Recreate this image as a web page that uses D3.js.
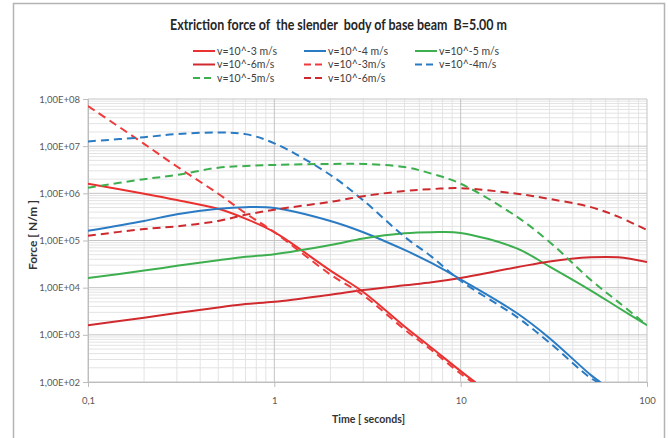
<!DOCTYPE html>
<html>
<head>
<meta charset="utf-8">
<script src="https://cdn.jsdelivr.net/npm/d3@7"></script>
<style>
  body { margin: 0; background: #fff; }
  text { font-family: Lato, "Open Sans", sans-serif; }
</style>
</head>
<body>
<div id="chart"></div>
<script>
// DATA
const timesFull = [0.1, 0.2, 0.3, 0.5, 0.7, 1, 2, 3, 5, 7, 10, 20, 30, 50, 70, 100];
const timesRed3 = [0.1, 0.2, 0.3, 0.5, 0.7, 1, 2, 3, 5, 7, 10, 12];
const timesBlueSolid = [0.1, 0.2, 0.3, 0.5, 0.7, 1, 2, 3, 5, 7, 10, 20, 30, 50, 57];
const timesBlueDash = [0.1, 0.2, 0.3, 0.5, 0.7, 1, 2, 3, 5, 7, 10, 20, 30, 50, 56];

const v3Solid = [1.6e6, 9.8e5, 7.2e5, 4.7e5, 2.9e5, 1.5e5, 2.3e4, 8.1e3, 1.5e3, 525, 170, 98];
const v4Solid = [1.6e5, 2.6e5, 3.6e5, 4.7e5, 5.1e5, 4.9e5, 2.6e5, 1.5e5, 6.3e4, 3.3e4, 1.5e4, 2.9e3, 850, 140, 95];
const v5Solid = [1.6e4, 2.3e4, 2.9e4, 3.8e4, 4.5e4, 5.1e4, 8.0e4, 1.1e5, 1.42e5, 1.5e5, 1.45e5, 6.8e4, 2.8e4, 8.7e3, 3.8e3, 1.6e3];
const v6Solid = [1.6e3, 2.3e3, 2.9e3, 3.8e3, 4.5e3, 5.0e3, 7.1e3, 8.9e3, 1.12e4, 1.3e4, 1.6e4, 2.7e4, 3.6e4, 4.4e4, 4.4e4, 3.5e4];
const v3Dash = [7.1e7, 1.12e7, 3.7e6, 9.8e5, 3.8e5, 1.5e5, 1.9e4, 6.9e3, 1.3e3, 470, 150, 91];
const v4Dash = [1.26e7, 1.55e7, 1.8e7, 1.95e7, 1.8e7, 1.15e7, 2.45e6, 7.1e5, 1.2e5, 4.5e4, 1.4e4, 2.4e3, 680, 120, 95];
const v5Dash = [1.32e6, 2.0e6, 2.45e6, 3.5e6, 3.8e6, 4.0e6, 4.2e6, 4.2e6, 3.6e6, 2.6e6, 1.6e6, 3.2e5, 9.3e4, 1.45e4, 5.0e3, 1.6e3];
const v6Dash = [1.26e5, 1.75e5, 2.0e5, 2.6e5, 3.5e5, 4.5e5, 6.6e5, 8.7e5, 1.12e6, 1.23e6, 1.29e6, 9.8e5, 7.6e5, 5.1e5, 3.2e5, 1.66e5];

const yTicks = [1e2, 1e3, 1e4, 1e5, 1e6, 1e7, 1e8];
const xTicks = [0.1, 1, 10, 100];
const xTickLabels = ["0,1", "1", "10", "100"];

// series in legend order
const series = [
    { name: "v=10^-3 m/s", t: timesRed3, v: v3Solid, color: "#e9312f", dash: null },
    { name: "v=10^-4 m/s", t: timesBlueSolid, v: v4Solid, color: "#2a7bc3", dash: null },
    { name: "v=10^-5 m/s", t: timesFull, v: v5Solid, color: "#3daf4f", dash: null },
    { name: "v=10^-6m/s", t: timesFull, v: v6Solid, color: "#d02a2e", dash: null },
    { name: "v=10^-3m/s", t: timesRed3, v: v3Dash, color: "#ee3a3a", dash: "8,5" },
    { name: "v=10^-4m/s", t: timesBlueDash, v: v4Dash, color: "#2a7bc3", dash: "8,5" },
    { name: "v=10^-5m/s", t: timesFull, v: v5Dash, color: "#3daf4f", dash: "8,5" },
    { name: "v=10^-6m/s", t: timesFull, v: v6Dash, color: "#cc2a2e", dash: "8,5" }
];

// 1: SVG
const W = 668, H = 438;
const plot = { left: 88, right: 647, top: 99, bottom: 382 };

const svg = d3.select("#chart").append("svg")
    .attr("width", W)
    .attr("height", H);

// outer chart frame
svg.append("path")
    .attr("d", `M13.5,${H} V3.5 H664.5 V${H}`)
    .attr("fill", "none")
    .attr("stroke", "#b3b3b3")
    .attr("stroke-width", 1.5);

// 2: SCALES
const x = d3.scaleLog().domain([0.1, 100]).range([plot.left, plot.right]);
const y = d3.scaleLog().domain([1e2, 1e8]).range([plot.bottom, plot.top]);

// 3: GRID
const minorX = [], minorY = [];
for (let d = 0.1; d < 100; d *= 10) for (let k = 2; k <= 9; k++) minorX.push(d * k);
for (let d = 1e2; d < 1e8; d *= 10) for (let k = 2; k <= 9; k++) minorY.push(d * k);

const grid = svg.append("g");
grid.selectAll(".mx").data(minorX).enter().append("line")
    .attr("x1", d => x(d)).attr("x2", d => x(d))
    .attr("y1", plot.top).attr("y2", plot.bottom)
    .attr("stroke", "#e3e3e3").attr("stroke-width", 1);
grid.selectAll(".my").data(minorY).enter().append("line")
    .attr("x1", plot.left).attr("x2", plot.right)
    .attr("y1", d => y(d)).attr("y2", d => y(d))
    .attr("stroke", "#e3e3e3").attr("stroke-width", 1);
grid.selectAll(".Mx").data(xTicks).enter().append("line")
    .attr("x1", d => x(d)).attr("x2", d => x(d))
    .attr("y1", plot.top).attr("y2", plot.bottom)
    .attr("stroke", "#c4c4c4").attr("stroke-width", 1);
grid.selectAll(".My").data(yTicks).enter().append("line")
    .attr("x1", plot.left).attr("x2", plot.right)
    .attr("y1", d => y(d)).attr("y2", d => y(d))
    .attr("stroke", "#c4c4c4").attr("stroke-width", 1);

// 4: AXES
const yAxis = svg.append("g")
    .attr("transform", `translate(${plot.left},0)`)
    .call(d3.axisLeft(y).tickValues(yTicks).tickSize(5).tickPadding(3)
        .tickFormat(d => "1,00E+" + String(Math.round(Math.log10(d))).padStart(2, "0")));
const xAxis = svg.append("g")
    .attr("transform", `translate(0,${plot.bottom})`)
    .call(d3.axisBottom(x).tickValues(xTicks).tickSize(5).tickPadding(10)
        .tickFormat((d, i) => xTickLabels[i]));
[yAxis, xAxis].forEach(a => {
    a.select(".domain").attr("stroke", "#bdbdbd");
    a.selectAll(".tick line").attr("stroke", "#bdbdbd");
    a.selectAll("text").attr("fill", "#595959").style("font-size", "9.5px")
        .style("font-family", "Lato, sans-serif");
});

// 5: LINES
svg.append("clipPath").attr("id", "clip").append("rect")
    .attr("x", plot.left).attr("y", plot.top)
    .attr("width", plot.right - plot.left).attr("height", plot.bottom - plot.top);

const line = d3.line()
    .x(d => x(d[0]))
    .y(d => y(d[1]))
    .curve(d3.curveCatmullRom.alpha(0.5));

const lines = svg.append("g").attr("clip-path", "url(#clip)");
series.forEach(s => {
    lines.append("path")
        .datum(s.t.map((t, i) => [t, s.v[i]]))
        .attr("d", line)
        .attr("fill", "none")
        .attr("stroke", s.color)
        .attr("stroke-width", 2)
        .attr("stroke-dasharray", s.dash);
});

// 6: LABELS
svg.append("text")
    .attr("x", 170).attr("y", 30)
    .style("font-size", "14.5px").style("font-weight", "bold").attr("fill", "#262626")
    .attr("xml:space", "preserve")
    .attr("textLength", 337).attr("lengthAdjust", "spacingAndGlyphs")
    .text("Extriction force of  the slender  body of base beam  B=5.00 m");

svg.append("text")
    .attr("x", 332).attr("y", 423)
    .style("font-size", "12px").style("font-weight", "bold").attr("fill", "#333")
    .attr("xml:space", "preserve")
    .attr("textLength", 73).attr("lengthAdjust", "spacingAndGlyphs")
    .text("Time [ seconds]");

svg.append("text")
    .attr("transform", `translate(37,270) rotate(-90)`)
    .style("font-size", "11.5px").style("font-weight", "bold").attr("fill", "#333")
    .attr("textLength", 70).attr("lengthAdjust", "spacingAndGlyphs")
    .text("Force [ N/m ]");

// LEGEND
const legendCols = [193, 304, 415];
const legendRows = [51, 64.5, 78];
const legend = svg.append("g");
series.forEach((s, i) => {
    const cx = legendCols[i % 3], cy = legendRows[Math.floor(i / 3)];
    legend.append("line")
        .attr("x1", cx).attr("x2", cx + 22)
        .attr("y1", cy).attr("y2", cy)
        .attr("stroke", s.color).attr("stroke-width", 2)
        .attr("stroke-dasharray", s.dash ? "7,4" : null);
    legend.append("text")
        .attr("x", cx + 24).attr("y", cy + 3.5)
        .style("font-size", "10.5px").attr("fill", "#404040")
        .text(s.name);
});
</script>
</body>
</html>
